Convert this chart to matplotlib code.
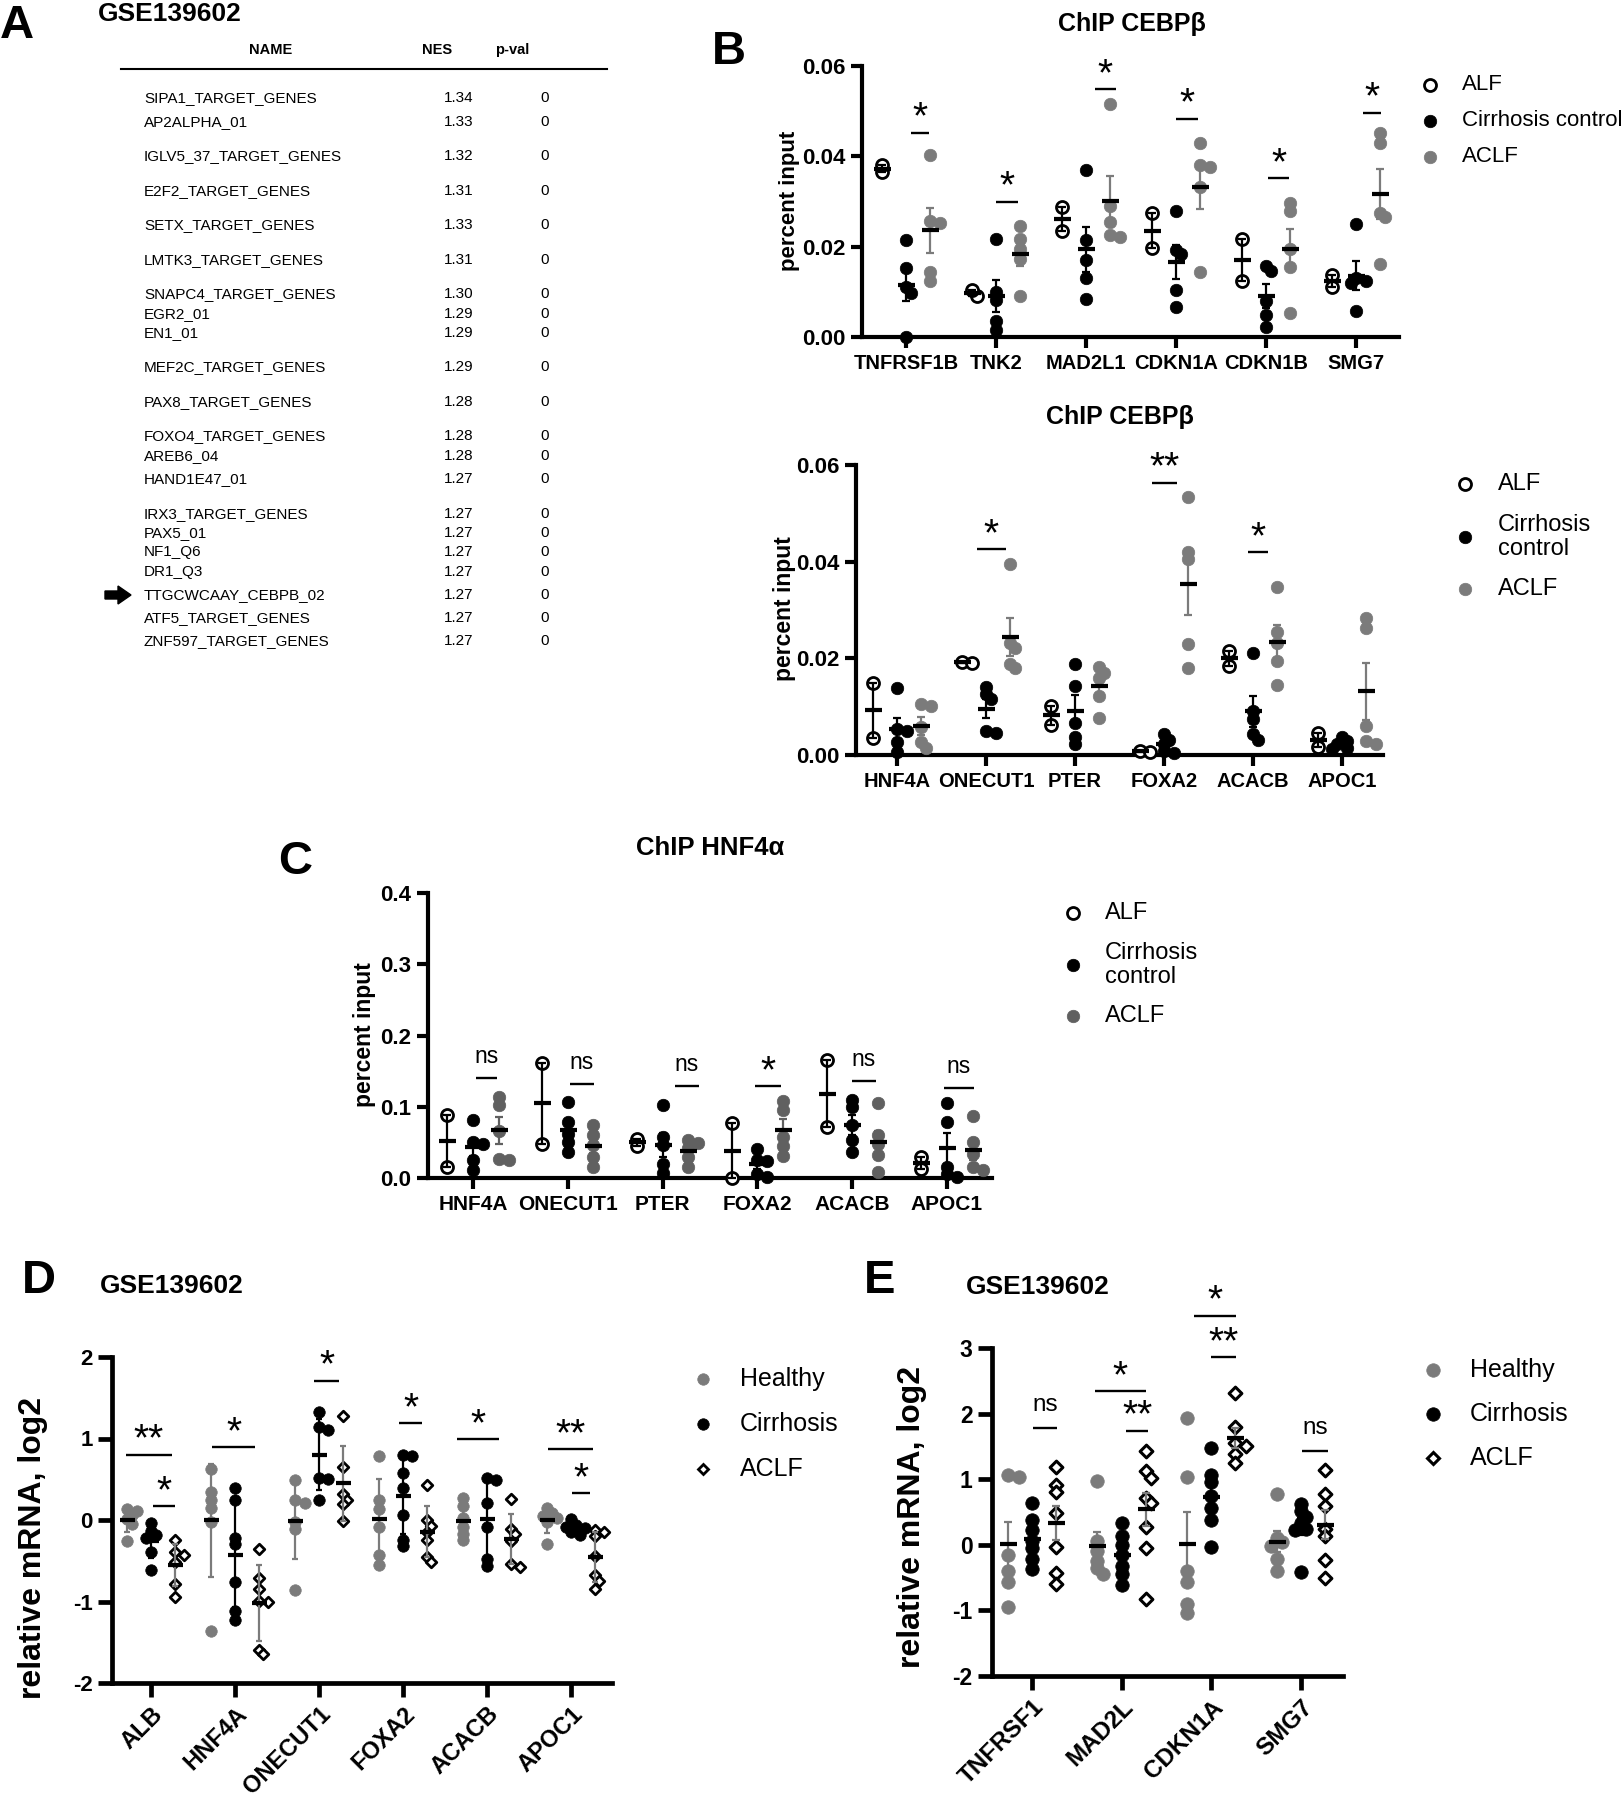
import numpy as np
import matplotlib
matplotlib.use("Agg")
import matplotlib.pyplot as plt
from matplotlib.lines import Line2D
from matplotlib.patches import Polygon

plt.rcParams['font.family'] = ['Liberation Sans', 'DejaVu Sans']
plt.rcParams['axes.unicode_minus'] = False

# ---------------- DATA ----------------
# Panel A: GSEA table
gsea_names = ["SIPA1_TARGET_GENES", "AP2ALPHA_01", "IGLV5_37_TARGET_GENES", "E2F2_TARGET_GENES",
              "SETX_TARGET_GENES", "LMTK3_TARGET_GENES", "SNAPC4_TARGET_GENES", "EGR2_01", "EN1_01",
              "MEF2C_TARGET_GENES", "PAX8_TARGET_GENES", "FOXO4_TARGET_GENES", "AREB6_04",
              "HAND1E47_01", "IRX3_TARGET_GENES", "PAX5_01", "NF1_Q6", "DR1_Q3",
              "TTGCWCAAY_CEBPB_02", "ATF5_TARGET_GENES", "ZNF597_TARGET_GENES"]
gsea_nes = ["1.34", "1.33", "1.32", "1.31", "1.33", "1.31", "1.30", "1.29", "1.29", "1.29", "1.28",
            "1.28", "1.28", "1.27", "1.27", "1.27", "1.27", "1.27", "1.27", "1.27", "1.27"]
gsea_pval = ["0"] * 21
gsea_highlight = "TTGCWCAAY_CEBPB_02"

# Panel B (top): ChIP CEBPb
b1_genes = ['TNFRSF1B', 'TNK2', 'MAD2L1', 'CDKN1A', 'CDKN1B', 'SMG7']
b1_alf = [[0.0365, 0.038], [0.009, 0.0103], [0.0287, 0.0234], [0.0274, 0.0197],
          [0.0217, 0.0125], [0.0138, 0.0111]]
b1_cirr = [[0.0215, 0.0152, 0.011, 0.0097, 0.0], [0.0217, 0.0099, 0.0083, 0.0035, 0.0016],
           [0.0369, 0.0215, 0.0171, 0.013, 0.0084], [0.028, 0.0193, 0.0184, 0.0105, 0.0066],
           [0.0158, 0.0147, 0.0079, 0.0049, 0.0022], [0.0251, 0.013, 0.0123, 0.0119, 0.0057]]
b1_aclf = [[0.0403, 0.0256, 0.0252, 0.0145, 0.0123], [0.0245, 0.0218, 0.0195, 0.0172, 0.009],
           [0.0515, 0.0289, 0.0254, 0.0226, 0.0221], [0.043, 0.0381, 0.0377, 0.0332, 0.0143],
           [0.0296, 0.0278, 0.0195, 0.0156, 0.0053], [0.0451, 0.043, 0.0274, 0.0265, 0.0162]]
b1_sig = [(0, 0.05, 0.25, 0.0452, '*'), (1, 0.0, 0.24, 0.0299, '*'), (2, 0.10, 0.33, 0.0549, '*'),
          (3, 0.0, 0.24, 0.0483, '*'), (4, 0.02, 0.26, 0.0352, '*'), (5, 0.08, 0.28, 0.0496, '*')]

# Panel B (bottom): ChIP CEBPb
b2_genes = ['HNF4A', 'ONECUT1', 'PTER', 'FOXA2', 'ACACB', 'APOC1']
b2_alf = [[0.015, 0.0036], [0.0192, 0.0191], [0.0101, 0.0063], [0.0008, 0.0007],
          [0.0215, 0.0185], [0.0046, 0.0017]]
b2_cirr = [[0.0138, 0.0053, 0.005, 0.0026, 0.0007], [0.0141, 0.0126, 0.0115, 0.005, 0.0046],
           [0.0189, 0.0143, 0.0067, 0.0037, 0.0022], [0.0043, 0.0032, 0.0022, 0.0008, 0.0005],
           [0.0212, 0.0091, 0.0074, 0.0043, 0.0032], [0.0037, 0.0029, 0.0022, 0.0015, 0.0012]]
b2_aclf = [[0.0105, 0.0101, 0.0057, 0.0026, 0.0015], [0.0395, 0.0232, 0.0222, 0.0189, 0.0181],
           [0.0182, 0.017, 0.016, 0.0122, 0.0077], [0.0534, 0.0421, 0.0405, 0.0229, 0.0181],
           [0.0348, 0.0255, 0.0232, 0.0194, 0.0145], [0.0283, 0.0263, 0.006, 0.0029, 0.0023]]
b2_sig = [(1, -0.10, 0.22, 0.0426, '*'), (3, -0.13, 0.15, 0.0563, '**'), (4, -0.06, 0.17, 0.042, '*')]

# Panel C: ChIP HNF4a
c_genes = ['HNF4A', 'ONECUT1', 'PTER', 'FOXA2', 'ACACB', 'APOC1']
c_alf = [[0.088, 0.0155], [0.161, 0.0483], [0.0553, 0.0446], [0.0765, 0.0], [0.165, 0.0718],
         [0.0295, 0.013]]
c_cirr = [[0.081, 0.0506, 0.0483, 0.0258, 0.0108], [0.107, 0.0788, 0.0624, 0.0506, 0.0366],
          [0.102, 0.0577, 0.046, 0.02, 0.007], [0.041, 0.0258, 0.0235, 0.006, 0.0014],
          [0.109, 0.1, 0.074, 0.053, 0.0366], [0.1055, 0.079, 0.0155, 0.006, 0.0014]]
c_aclf = [[0.114, 0.102, 0.066, 0.027, 0.025], [0.074, 0.06, 0.046, 0.0295, 0.0155],
          [0.054, 0.049, 0.042, 0.03, 0.016], [0.108, 0.096, 0.058, 0.045, 0.031],
          [0.1046, 0.06, 0.048, 0.032, 0.0084], [0.0868, 0.0506, 0.034, 0.0155, 0.0108]]
c_sig = [(0, 0.03, 0.25, 0.140, 'ns'), (1, 0.02, 0.28, 0.132, 'ns'), (2, 0.13, 0.38, 0.129, 'ns'),
         (3, -0.03, 0.25, 0.129, '*'), (4, 0.0, 0.25, 0.136, 'ns'), (5, -0.03, 0.28, 0.126, 'ns')]

# Panel D: GSE139602 relative mRNA
d_genes = ['ALB', 'HNF4A', 'ONECUT1', 'FOXA2', 'ACACB', 'APOC1']
d_healthy = [[0.13, 0.11, 0.06, 0.01, -0.05, -0.26], [0.62, 0.34, 0.24, 0.15, -0.02, -1.36],
             [0.49, 0.25, 0.21, -0.02, -0.11, -0.86], [0.78, 0.25, 0.13, -0.09, -0.43, -0.55],
             [0.27, 0.17, 0.02, -0.09, -0.17, -0.25], [0.15, 0.08, 0.05, 0.02, -0.03, -0.29]]
d_cirr = [[-0.04, -0.13, -0.18, -0.22, -0.39, -0.61], [0.39, 0.24, -0.22, -0.3, -0.76, -1.12, -1.23],
          [1.32, 1.14, 1.1, 0.51, 0.5, 0.25], [0.8, 0.78, 0.58, 0.39, 0.06, -0.24, -0.32],
          [0.52, 0.49, 0.21, -0.09, -0.48, -0.56], [0.01, -0.06, -0.08, -0.1, -0.15, -0.18]]
d_aclf = [[-0.25, -0.39, -0.43, -0.52, -0.78, -0.95], [-0.35, -0.71, -0.85, -0.99, -1.01, -1.59, -1.64],
          [1.28, 0.65, 0.32, 0.25, 0.2, -0.01], [0.43, 0.0, -0.07, -0.15, -0.24, -0.45, -0.52],
          [0.26, -0.11, -0.17, -0.26, -0.54, -0.58], [-0.12, -0.15, -0.2, -0.44, -0.68, -0.75, -0.85]]
d_sig = [(0, -0.30, 0.25, 0.80, '**'), (0, 0.02, 0.29, 0.17, '*'), (1, -0.27, 0.24, 0.89, '*'),
         (2, -0.06, 0.24, 1.71, '*'), (3, -0.05, 0.23, 1.19, '*'), (4, -0.36, 0.14, 0.99, '*'),
         (5, -0.27, 0.26, 0.87, '**'), (5, 0.01, 0.23, 0.33, '*')]

# Panel E: GSE139602 relative mRNA
e_genes = ['TNFRSF1', 'MAD2L', 'CDKN1A', 'SMG7']
e_healthy = [[1.07, 1.03, -0.16, -0.4, -0.56, -0.95], [0.97, 0.06, -0.1, -0.24, -0.35, -0.45],
             [1.94, 1.04, -0.4, -0.56, -0.91, -1.04], [0.78, 0.11, 0.04, -0.02, -0.21, -0.4]]
e_cirr = [[0.64, 0.38, 0.22, 0.06, -0.05, -0.21, -0.37], [0.33, 0.14, 0.0, -0.16, -0.32, -0.45, -0.61],
          [1.47, 1.07, 0.96, 0.75, 0.56, 0.38, -0.04], [0.62, 0.51, 0.43, 0.33, 0.24, 0.22, -0.41]]
e_aclf = [[1.19, 0.91, 0.8, 0.48, -0.04, -0.43, -0.59], [1.43, 1.12, 1.02, 0.72, 0.64, 0.27, -0.05, -0.83],
          [2.31, 1.79, 1.55, 1.5, 1.39, 1.24], [1.14, 0.78, 0.59, 0.24, 0.13, -0.23, -0.51]]
e_sig = [(0, 0.01, 0.28, 1.78, 'ns'), (1, -0.30, 0.27, 2.34, '*'), (1, 0.05, 0.30, 1.74, '**'),
         (2, -0.19, 0.28, 3.49, '*'), (2, 0.0, 0.28, 2.86, '**'), (3, 0.01, 0.30, 1.43, 'ns')]

# ---------------- FIGURE ----------------
W, H, DPI = 1623, 1800, 100
fig = plt.figure(figsize=(W / DPI, H / DPI), dpi=DPI)
PT = 72.0 / DPI  # points per pixel

GRAY = '#7b7b7b'
DGRAY = '#606060'


def fx(x):
    return x / W


def fy(y):
    return 1 - y / H


def axes_px(x0, y0, x1, y1):
    return fig.add_axes([fx(x0), fy(y1), (x1 - x0) / W, (y1 - y0) / H])


def swarm(ax, xc, vals, diam_px, overlap=0.5):
    tr = ax.transData
    p0 = tr.transform((xc, 0.0))
    pxu = tr.transform((xc + 1.0, 0.0))[0] - p0[0]
    step = diam_px * 0.4
    placed = []
    xs = np.zeros(len(vals))
    order = np.argsort(vals)[::-1]
    cands = [0] + [s * m for m in range(1, 14) for s in (1, -1)]
    for i in order:
        ypx = tr.transform((xc, vals[i]))[1]
        for c in cands:
            xpx = p0[0] + c * step
            if all((xpx - a) ** 2 + (ypx - b) ** 2 >= (diam_px * overlap) ** 2 for a, b in placed):
                break
        placed.append((xpx, ypx))
        xs[i] = xc + c * step / pxu
    return xs


def style_axes(ax, genes, xlim, ylim, yticks, yfmt, xfs, yfs, rot=False, lw=3.0, tl=8):
    ax.set_xlim(*xlim)
    ax.set_ylim(*ylim)
    for s in ('top', 'right'):
        ax.spines[s].set_visible(False)
    for s in ('left', 'bottom'):
        ax.spines[s].set_linewidth(lw)
        ax.spines[s].set_capstyle('projecting')
    ax.set_yticks(yticks)
    ax.set_yticklabels([yfmt.format(v) for v in yticks], fontsize=yfs, fontweight='bold')
    ax.set_xticks(range(len(genes)))
    if rot:
        ax.set_xticklabels(genes, fontsize=xfs, fontweight='bold', rotation=45, ha='right',
                           rotation_mode='anchor')
    else:
        ax.set_xticklabels(genes, fontsize=xfs, fontweight='bold')
    ax.tick_params(axis='both', direction='out', length=tl, width=lw, pad=4)
    ax.patch.set_alpha(0)


def draw_groups(ax, groups, offset, specs, err, diam_px, mean_w_px, cap_pt):
    for gi, spec in enumerate(specs):
        data = groups[gi]
        for ci, vals in enumerate(data):
            vals = np.asarray(vals, float)
            xc = ci + (gi - 1) * offset
            xs = swarm(ax, xc, vals, diam_px)
            ax.scatter(xs, vals, s=(spec['size'] * PT) ** 2, marker=spec['marker'],
                       facecolor=spec['face'], edgecolor=spec['edge'],
                       linewidths=spec['lw'], zorder=3, clip_on=False)
            m = vals.mean()
            sd = vals.std(ddof=1)
            e = sd if err == 'sd' else sd / np.sqrt(len(vals))
            ax.errorbar([xc], [m], yerr=[e], fmt='none', ecolor=spec['ecolor'], elinewidth=1.6,
                        capsize=cap_pt, capthick=1.6, zorder=4, clip_on=False)
            ax.plot([xc], [m], marker='_', ms=mean_w_px * PT, mew=3.0 * PT * 1.4, color='k',
                    zorder=5, clip_on=False, ls='none')


def draw_sig(ax, sigs, star_fs, ns_fs, star_off, ns_off):
    for cat, a, b, y, lab in sigs:
        ax.plot([cat + a, cat + b], [y, y], color='k', lw=1.7, clip_on=False,
                solid_capstyle='butt', zorder=6)
        if lab == 'ns':
            ax.annotate(lab, (cat + (a + b) / 2, y), xytext=(0, ns_off), textcoords='offset points',
                        ha='center', va='baseline', fontsize=ns_fs, annotation_clip=False)
        else:
            ax.annotate(lab, (cat + (a + b) / 2, y), xytext=(0, star_off), textcoords='offset points',
                        ha='center', va='baseline', fontsize=star_fs, annotation_clip=False)


def legend_px(items, mx, tx, fs):
    for y, marker, face, edge, size, lw, lab in items:
        fig.add_artist(Line2D([fx(mx)], [fy(y)], transform=fig.transFigure, marker=marker,
                              ms=size * PT, mfc=face, mec=edge, mew=lw, ls='none'))
        fig.text(fx(tx), fy(y), lab, fontsize=fs, ha='left', va='center', linespacing=1.15)


def panel_letter(x, y, s):
    fig.text(fx(x), fy(y), s, fontsize=34, fontweight='bold', ha='left', va='center')


STAR_FS = 28
STAR_OFF = 3.0

# ---------------- PANEL A ----------------
panel_letter(0, 26, 'A')
fig.text(fx(98), fy(14), 'GSE139602', fontsize=19, fontweight='bold', ha='left', va='center')
fig.text(fx(271), fy(50), 'NAME', fontsize=10.5, fontweight='bold', ha='center', va='center')
fig.text(fx(437), fy(50), 'NES', fontsize=10.5, fontweight='bold', ha='center', va='center')
fig.text(fx(512), fy(50), 'p-val', fontsize=10.5, fontweight='bold', ha='center', va='center')
fig.add_artist(Line2D([fx(121), fx(607)], [fy(69), fy(69)], transform=fig.transFigure,
                      color='k', lw=1.5))
row_y = [98, 122, 156, 191, 225, 260, 294, 314, 333, 367, 402, 436, 456, 479, 514, 533, 552,
         572, 595, 618, 641]
for yy, nm, nes, pv in zip(row_y, gsea_names, gsea_nes, gsea_pval):
    fig.text(fx(144), fy(yy), nm, fontsize=11, ha='left', va='center')
    fig.text(fx(459), fy(yy), nes, fontsize=11, ha='center', va='center')
    fig.text(fx(545), fy(yy), pv, fontsize=11, ha='center', va='center')
    if nm == gsea_highlight:
        pts = [(105, yy - 4), (118, yy - 4), (118, yy - 9), (131, yy), (118, yy + 9),
               (118, yy + 4), (105, yy + 4)]
        fig.add_artist(Polygon([(fx(a), fy(b)) for a, b in pts], closed=True,
                               transform=fig.transFigure, facecolor='k', edgecolor='k'))

# ---------------- PANEL B (top) ----------------
panel_letter(712, 52, 'B')
axB1 = axes_px(862, 66, 1399, 337)
style_axes(axB1, b1_genes, (-0.489, 5.478), (0, 0.06), [0, 0.02, 0.04, 0.06], '{:.2f}', 14.5, 16)
open_spec = dict(marker='o', face='white', edge='k', lw=2.0, ecolor='k', size=12)
blk_spec = dict(marker='o', face='k', edge='k', lw=0.5, ecolor='k', size=12.5)
gry_spec = dict(marker='o', face=GRAY, edge=GRAY, lw=0.5, ecolor=GRAY, size=12.5)
draw_groups(axB1, [b1_alf, b1_cirr, b1_aclf], 0.27, [open_spec, blk_spec, gry_spec], 'sem', 12.5, 17, 3)
draw_sig(axB1, b1_sig, STAR_FS, 16, STAR_OFF, 11)
fig.text(fx(1132), fy(24), 'ChIP CEBPβ', fontsize=18, fontweight='bold', ha='center', va='center')
fig.text(fx(790), fy(201), 'percent input', fontsize=16, fontweight='bold', rotation=90,
         ha='center', va='center')
legend_px([(85, 'o', 'white', 'k', 12, 2.0, 'ALF'),
           (121, 'o', 'k', 'k', 12.5, 0.5, 'Cirrhosis control'),
           (157, 'o', GRAY, GRAY, 12.5, 0.5, 'ACLF')], 1430, 1462, 16)

# ---------------- PANEL B (bottom) ----------------
axB2 = axes_px(856, 465, 1383, 755)
style_axes(axB2, b2_genes, (-0.46, 5.46), (0, 0.06), [0, 0.02, 0.04, 0.06], '{:.2f}', 14.5, 16)
draw_groups(axB2, [b2_alf, b2_cirr, b2_aclf], 0.27, [open_spec, blk_spec, gry_spec], 'sem', 12.5, 17, 3)
draw_sig(axB2, b2_sig, STAR_FS, 16, STAR_OFF, 11)
fig.text(fx(1120), fy(417), 'ChIP CEBPβ', fontsize=18, fontweight='bold', ha='center', va='center')
fig.text(fx(785), fy(609), 'percent input', fontsize=16.5, fontweight='bold', rotation=90,
         ha='center', va='center')
legend_px([(484, 'o', 'white', 'k', 12, 2.0, 'ALF'),
           (537, 'o', 'k', 'k', 12.5, 0.5, 'Cirrhosis\ncontrol'),
           (589, 'o', GRAY, GRAY, 12.5, 0.5, 'ACLF')], 1465, 1498, 17)

# ---------------- PANEL C ----------------
panel_letter(278, 862, 'C')
axC = axes_px(428, 893, 992, 1178)
style_axes(axC, c_genes, (-0.475, 5.475), (0, 0.4), [0, 0.1, 0.2, 0.3, 0.4], '{:.1f}', 15, 16)
dg_spec = dict(marker='o', face=DGRAY, edge=DGRAY, lw=0.5, ecolor=DGRAY, size=12.5)
draw_groups(axC, [c_alf, c_cirr, c_aclf], 0.27, [open_spec, blk_spec, dg_spec], 'sem', 12.5, 17, 3)
draw_sig(axC, c_sig, STAR_FS, 16.5, STAR_OFF, 11)
fig.text(fx(710), fy(848), 'ChIP HNF4α', fontsize=18.5, fontweight='bold', ha='center', va='center')
fig.text(fx(365), fy(1035), 'percent input', fontsize=16.5, fontweight='bold', rotation=90,
         ha='center', va='center')
legend_px([(913, 'o', 'white', 'k', 12, 2.0, 'ALF'),
           (965, 'o', 'k', 'k', 12.5, 0.5, 'Cirrhosis\ncontrol'),
           (1016, 'o', DGRAY, DGRAY, 12.5, 0.5, 'ACLF')], 1073, 1105, 17)

# ---------------- PANEL D ----------------
panel_letter(22, 1281, 'D')
fig.text(fx(100), fy(1286), 'GSE139602', fontsize=19, fontweight='bold', ha='left', va='center')
axD = axes_px(112, 1357, 612, 1683)
style_axes(axD, d_genes, (-0.464, 5.488), (-2, 2), [-2, -1, 0, 1, 2], '{:d}', 17, 16, rot=True,
           lw=3.4, tl=10)
h_spec = dict(marker='o', face=GRAY, edge=GRAY, lw=0.5, ecolor=GRAY, size=11.5)
c_spec = dict(marker='o', face='k', edge='k', lw=0.5, ecolor='k', size=11.5)
a_spec = dict(marker='D', face='white', edge='k', lw=2.0, ecolor=GRAY, size=7.5)
draw_groups(axD, [d_healthy, d_cirr, d_aclf], 0.28, [h_spec, c_spec, a_spec], 'sd', 11.5, 15, 2.5)
draw_sig(axD, d_sig, STAR_FS, 17, STAR_OFF, 12)
fig.text(fx(33), fy(1548), 'relative mRNA, log2', fontsize=23, fontweight='bold', rotation=90,
         ha='center', va='center')
legend_px([(1379, 'o', GRAY, GRAY, 11.5, 0.5, 'Healthy'),
           (1424, 'o', 'k', 'k', 11.5, 0.5, 'Cirrhosis'),
           (1469, 'D', 'white', 'k', 7.5, 2.0, 'ACLF')], 703, 740, 18)

# ---------------- PANEL E ----------------
panel_letter(864, 1281, 'E')
fig.text(fx(966), fy(1287), 'GSE139602', fontsize=19, fontweight='bold', ha='left', va='center')
axE = axes_px(992, 1348, 1343, 1676)
style_axes(axE, e_genes, (-0.446, 3.47), (-2, 3), [-2, -1, 0, 1, 2, 3], '{:d}', 17.5, 16.5, rot=True,
           lw=3.4, tl=10)
h2_spec = dict(marker='o', face=GRAY, edge=GRAY, lw=0.5, ecolor=GRAY, size=13.5)
c2_spec = dict(marker='o', face='k', edge='k', lw=0.5, ecolor='k', size=13.5)
a2_spec = dict(marker='D', face='white', edge='k', lw=2.2, ecolor=GRAY, size=9)
draw_groups(axE, [e_healthy, e_cirr, e_aclf], 0.27, [h2_spec, c2_spec, a2_spec], 'sem', 13.5, 17, 3)
draw_sig(axE, e_sig, STAR_FS, 17.5, STAR_OFF, 12)
fig.text(fx(912), fy(1517), 'relative mRNA, log2', fontsize=23, fontweight='bold', rotation=90,
         ha='center', va='center')
legend_px([(1370, 'o', GRAY, GRAY, 13.5, 0.5, 'Healthy'),
           (1414, 'o', 'k', 'k', 13.5, 0.5, 'Cirrhosis'),
           (1458, 'D', 'white', 'k', 9, 2.2, 'ACLF')], 1433, 1470, 18)

fig.savefig('out.png', dpi=DPI)
